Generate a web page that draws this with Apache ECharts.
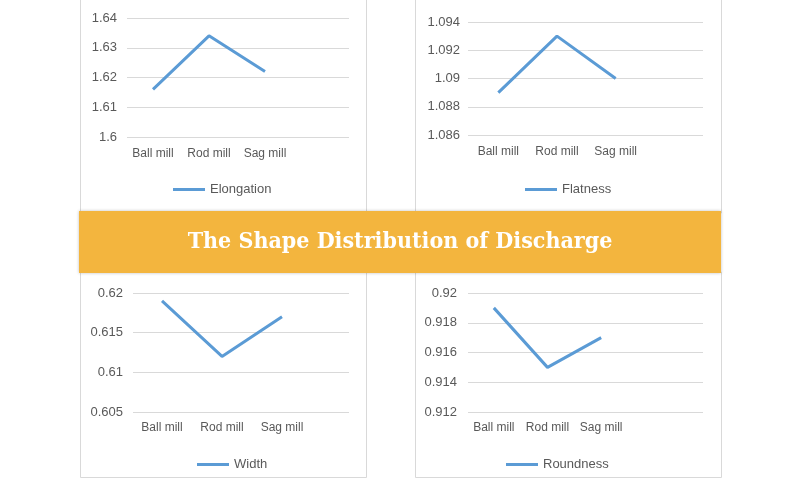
<!DOCTYPE html>
<html>
<head>
<meta charset="utf-8">
<script src="https://cdn.jsdelivr.net/npm/echarts@6/dist/echarts.min.js"></script>
<style>
html,body{margin:0;padding:0;background:#fff;}
#chart{width:800px;height:487px;}
</style>
</head>
<body>
<div id="chart"></div>
<script>
var categories = ['Ball mill', 'Rod mill', 'Sag mill'];
var elongation = [1.616, 1.634, 1.622];
var flatness = [1.089, 1.093, 1.090];
var widthVals = [0.619, 0.612, 0.617];
var roundness = [0.919, 0.915, 0.917];
var titleText = 'The Shape Distribution of Discharge';

var panels = [
  {name: 'Elongation', data: elongation, min: 1.6, max: 1.64, interval: 0.01,
   top: 18, bottom: 137, gridL: 127, gridR: 349, catL: 125, catW: 168, yMargin: 10, xMargin: 11,
   legL: 173, legT: 183},
  {name: 'Flatness', data: flatness, min: 1.086, max: 1.094, interval: 0.002,
   top: 22, bottom: 135, gridL: 468, gridR: 703, catL: 469, catW: 176, yMargin: 8, xMargin: 11,
   legL: 525, legT: 183},
  {name: 'Width', data: widthVals, min: 0.605, max: 0.62, interval: 0.005,
   top: 293, bottom: 412, gridL: 133, gridR: 349, catL: 132, catW: 180, yMargin: 10, xMargin: 10,
   legL: 197, legT: 458},
  {name: 'Roundness', data: roundness, min: 0.912, max: 0.92, interval: 0.002,
   top: 293, bottom: 412, gridL: 468, gridR: 703, catL: 467, catW: 161, yMargin: 11, xMargin: 10,
   legL: 506, legT: 458}
];

var grids = [], xAxes = [], yAxes = [], series = [], legends = [];
var labelColor = '#595959';
var fontFam = 'Liberation Sans';

panels.forEach(function (p, i) {
  grids.push({left: p.gridL, width: p.gridR - p.gridL, top: p.top, height: p.bottom - p.top});
  grids.push({left: p.catL, width: p.catW, top: p.top, height: p.bottom - p.top});
  xAxes.push({type: 'value', gridIndex: 2 * i, show: false});
  xAxes.push({type: 'category', gridIndex: 2 * i + 1, data: categories, boundaryGap: true,
    axisLine: {show: false}, axisTick: {show: false},
    axisLabel: {color: labelColor, fontFamily: fontFam, fontSize: 12, margin: p.xMargin, interval: 0, hideOverlap: false}});
  yAxes.push({type: 'value', gridIndex: 2 * i, min: p.min, max: p.max, interval: p.interval,
    axisLine: {show: false}, axisTick: {show: false},
    axisLabel: {color: labelColor, fontFamily: fontFam, fontSize: 13, margin: p.yMargin},
    splitLine: {lineStyle: {color: '#d9d9d9', width: 1}}});
  yAxes.push({type: 'value', gridIndex: 2 * i + 1, min: p.min, max: p.max, interval: p.interval, show: false,
    splitLine: {show: false}});
  series.push({name: p.name, type: 'line', xAxisIndex: 2 * i + 1, yAxisIndex: 2 * i + 1,
    data: p.data, symbol: 'none', lineStyle: {color: '#5b9bd5', width: 3}, itemStyle: {color: '#5b9bd5'},
    silent: true});
  legends.push({data: [p.name], left: p.legL, top: p.legT, padding: 0, icon: 'rect', itemWidth: 32, itemHeight: 3,
    textStyle: {color: labelColor, fontFamily: fontFam, fontSize: 13}, selectedMode: false});
});

var chart = echarts.init(document.getElementById('chart'), null, {renderer: 'canvas'});
chart.setOption({
  animation: false,
  backgroundColor: '#ffffff',
  grid: grids,
  xAxis: xAxes,
  yAxis: yAxes,
  legend: legends,
  series: series,
  graphic: [
    {type: 'rect', z: -10, shape: {x: 80.5, y: -2, width: 286, height: 215}, style: {fill: '#fff', stroke: '#d9d9d9', lineWidth: 1}},
    {type: 'rect', z: -10, shape: {x: 415.5, y: -2, width: 306, height: 215}, style: {fill: '#fff', stroke: '#d9d9d9', lineWidth: 1}},
    {type: 'rect', z: -10, shape: {x: 80.5, y: 272, width: 286, height: 205.5}, style: {fill: '#fff', stroke: '#d9d9d9', lineWidth: 1}},
    {type: 'rect', z: -10, shape: {x: 415.5, y: 272, width: 306, height: 205.5}, style: {fill: '#fff', stroke: '#d9d9d9', lineWidth: 1}},
    {type: 'rect', z: 10, shape: {x: 79, y: 211, width: 642, height: 62},
      style: {fill: '#f3b53e', shadowBlur: 3, shadowColor: 'rgba(0,0,0,0.25)'}},
    {type: 'text', z: 11, x: 400, y: 242,
      style: {text: titleText, fill: '#ffffff', font: 'bold 23px "DejaVu Serif Condensed", "DejaVu Serif"',
        textAlign: 'center', textVerticalAlign: 'middle',
        shadowColor: 'rgba(110,70,10,0.75)', shadowBlur: 1, shadowOffsetX: 1, shadowOffsetY: 2}}
  ]
});
</script>
</body>
</html>
